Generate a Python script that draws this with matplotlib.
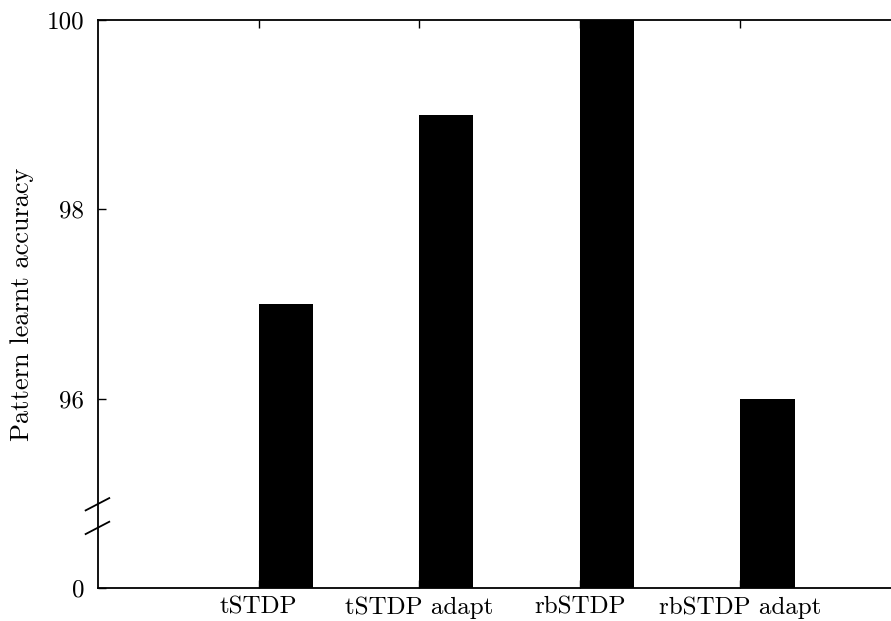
import matplotlib.pyplot as plt

categories = ["tSTDP", "tSTDP adapt", "rbSTDP", "rbSTDP adapt"]
accuracy = [97, 99, 100, 96]
ytick_values = [94, 96, 98, 100]
ytick_labels = ["0", "96", "98", "100"]

plt.rcParams["font.family"] = ["cmr10", "DejaVu Serif"]
plt.rcParams["axes.formatter.use_mathtext"] = True


def main():
    fig = plt.figure(figsize=(8.91, 6.21), dpi=100)
    # axes run past the right edge of the figure, as in the cropped original
    ax = fig.add_axes([0.110, 0.0531, 0.9012, 0.9147])

    xs = list(range(len(categories)))
    base = ytick_values[0]
    ax.bar(xs, [v - base for v in accuracy], bottom=base, width=0.337,
           align="edge", color="black", edgecolor="none")

    ax.set_xlim(-1, 4)
    ax.set_ylim(94, 100)
    ax.set_xticks(xs)
    ax.set_xticklabels(categories, fontsize=18)
    ax.set_yticks(ytick_values)
    ax.set_yticklabels(ytick_labels, fontsize=18)
    ax.tick_params(direction="in", length=6, width=1.0, top=True, right=False)
    ax.tick_params(axis="x", pad=6)
    ax.tick_params(axis="y", pad=10)
    ax.set_ylabel("Pattern learnt accuracy", fontsize=19)
    ax.yaxis.set_label_coords(-0.08, 0.5)

    for s in ax.spines.values():
        s.set_linewidth(1.3)
    ax.spines["right"].set_visible(False)

    # axis break marks
    for y0 in (94.57, 94.82):
        ax.plot([-1.077, -0.93], [y0, y0 + 0.13], color="black", lw=1.3,
                clip_on=False, zorder=5)

    fig.savefig("out.png", dpi=100)
    plt.close(fig)


if __name__ == "__main__":
    main()
